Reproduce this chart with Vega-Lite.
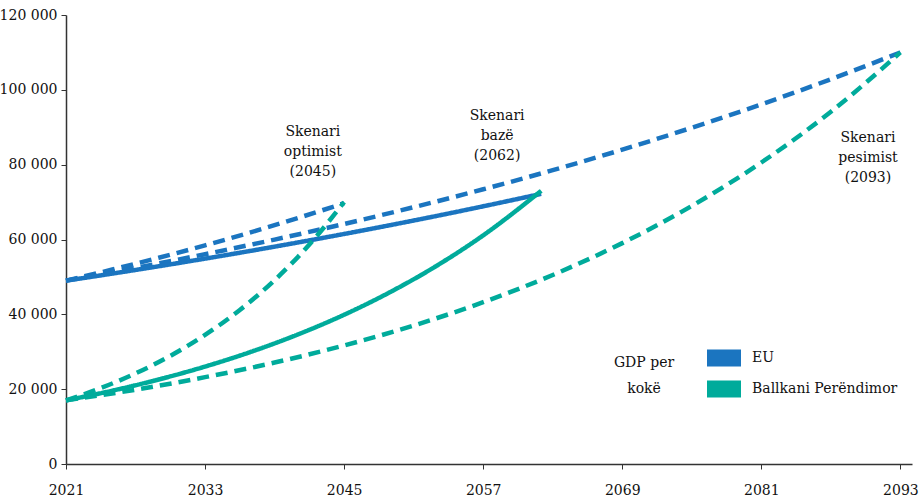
{
  "$schema": "https://vega.github.io/schema/vega-lite/v6.json",
  "width": 846,
  "height": 449,
  "autosize": {"type": "none"},
  "padding": {"left": 66, "top": 15, "right": 8, "bottom": 39},
  "background": "white",
  "config": {
    "view": {"stroke": null},
    "font": "DejaVu Serif",
    "axis": {"labelFont": "DejaVu Serif", "labelFontSize": 14, "labelColor": "#111", "domainColor": "#333", "tickColor": "#333", "domainWidth": 1.5, "tickWidth": 1, "grid": false, "title": null}
  },
  "datasets": {
    "lines": [
      {"series": "EU optimist", "region": "EU", "scenario": "alt", "year": 2021, "gdp": 49000},
      {"series": "EU optimist", "region": "EU", "scenario": "alt", "year": 2025, "gdp": 51970},
      {"series": "EU optimist", "region": "EU", "scenario": "alt", "year": 2029, "gdp": 55110},
      {"series": "EU optimist", "region": "EU", "scenario": "alt", "year": 2033, "gdp": 58440},
      {"series": "EU optimist", "region": "EU", "scenario": "alt", "year": 2037, "gdp": 61980},
      {"series": "EU optimist", "region": "EU", "scenario": "alt", "year": 2041, "gdp": 65730},
      {"series": "EU optimist", "region": "EU", "scenario": "alt", "year": 2045, "gdp": 69700},
      {"series": "EU pesimist", "region": "EU", "scenario": "alt", "year": 2021, "gdp": 49000},
      {"series": "EU pesimist", "region": "EU", "scenario": "alt", "year": 2027, "gdp": 52410},
      {"series": "EU pesimist", "region": "EU", "scenario": "alt", "year": 2033, "gdp": 56070},
      {"series": "EU pesimist", "region": "EU", "scenario": "alt", "year": 2039, "gdp": 59980},
      {"series": "EU pesimist", "region": "EU", "scenario": "alt", "year": 2045, "gdp": 64160},
      {"series": "EU pesimist", "region": "EU", "scenario": "alt", "year": 2051, "gdp": 68630},
      {"series": "EU pesimist", "region": "EU", "scenario": "alt", "year": 2057, "gdp": 73420},
      {"series": "EU pesimist", "region": "EU", "scenario": "alt", "year": 2063, "gdp": 78530},
      {"series": "EU pesimist", "region": "EU", "scenario": "alt", "year": 2069, "gdp": 84010},
      {"series": "EU pesimist", "region": "EU", "scenario": "alt", "year": 2075, "gdp": 89870},
      {"series": "EU pesimist", "region": "EU", "scenario": "alt", "year": 2081, "gdp": 96130},
      {"series": "EU pesimist", "region": "EU", "scenario": "alt", "year": 2087, "gdp": 102840},
      {"series": "EU pesimist", "region": "EU", "scenario": "alt", "year": 2093, "gdp": 110000},
      {"series": "EU bazë", "region": "EU", "scenario": "base", "year": 2021, "gdp": 49000},
      {"series": "EU bazë", "region": "EU", "scenario": "base", "year": 2025, "gdp": 50890},
      {"series": "EU bazë", "region": "EU", "scenario": "base", "year": 2029, "gdp": 52850},
      {"series": "EU bazë", "region": "EU", "scenario": "base", "year": 2033, "gdp": 54890},
      {"series": "EU bazë", "region": "EU", "scenario": "base", "year": 2037, "gdp": 57000},
      {"series": "EU bazë", "region": "EU", "scenario": "base", "year": 2041, "gdp": 59200},
      {"series": "EU bazë", "region": "EU", "scenario": "base", "year": 2045, "gdp": 61480},
      {"series": "EU bazë", "region": "EU", "scenario": "base", "year": 2049, "gdp": 63850},
      {"series": "EU bazë", "region": "EU", "scenario": "base", "year": 2053, "gdp": 66310},
      {"series": "EU bazë", "region": "EU", "scenario": "base", "year": 2057, "gdp": 68870},
      {"series": "EU bazë", "region": "EU", "scenario": "base", "year": 2062, "gdp": 72200},
      {"series": "WB optimist", "region": "Ballkani Perëndimor", "scenario": "alt", "year": 2021, "gdp": 17000},
      {"series": "WB optimist", "region": "Ballkani Perëndimor", "scenario": "alt", "year": 2024, "gdp": 20290},
      {"series": "WB optimist", "region": "Ballkani Perëndimor", "scenario": "alt", "year": 2027, "gdp": 24220},
      {"series": "WB optimist", "region": "Ballkani Perëndimor", "scenario": "alt", "year": 2030, "gdp": 28900},
      {"series": "WB optimist", "region": "Ballkani Perëndimor", "scenario": "alt", "year": 2033, "gdp": 34500},
      {"series": "WB optimist", "region": "Ballkani Perëndimor", "scenario": "alt", "year": 2036, "gdp": 41170},
      {"series": "WB optimist", "region": "Ballkani Perëndimor", "scenario": "alt", "year": 2039, "gdp": 49140},
      {"series": "WB optimist", "region": "Ballkani Perëndimor", "scenario": "alt", "year": 2042, "gdp": 58650},
      {"series": "WB optimist", "region": "Ballkani Perëndimor", "scenario": "alt", "year": 2045, "gdp": 70000},
      {"series": "WB bazë", "region": "Ballkani Perëndimor", "scenario": "base", "year": 2021, "gdp": 17000},
      {"series": "WB bazë", "region": "Ballkani Perëndimor", "scenario": "base", "year": 2025, "gdp": 19600},
      {"series": "WB bazë", "region": "Ballkani Perëndimor", "scenario": "base", "year": 2029, "gdp": 22590},
      {"series": "WB bazë", "region": "Ballkani Perëndimor", "scenario": "base", "year": 2033, "gdp": 26040},
      {"series": "WB bazë", "region": "Ballkani Perëndimor", "scenario": "base", "year": 2037, "gdp": 30020},
      {"series": "WB bazë", "region": "Ballkani Perëndimor", "scenario": "base", "year": 2041, "gdp": 34610},
      {"series": "WB bazë", "region": "Ballkani Perëndimor", "scenario": "base", "year": 2045, "gdp": 39890},
      {"series": "WB bazë", "region": "Ballkani Perëndimor", "scenario": "base", "year": 2049, "gdp": 45990},
      {"series": "WB bazë", "region": "Ballkani Perëndimor", "scenario": "base", "year": 2053, "gdp": 53010},
      {"series": "WB bazë", "region": "Ballkani Perëndimor", "scenario": "base", "year": 2057, "gdp": 61110},
      {"series": "WB bazë", "region": "Ballkani Perëndimor", "scenario": "base", "year": 2062, "gdp": 73000},
      {"series": "WB pesimist", "region": "Ballkani Perëndimor", "scenario": "alt", "year": 2021, "gdp": 17000},
      {"series": "WB pesimist", "region": "Ballkani Perëndimor", "scenario": "alt", "year": 2027, "gdp": 19860},
      {"series": "WB pesimist", "region": "Ballkani Perëndimor", "scenario": "alt", "year": 2033, "gdp": 23210},
      {"series": "WB pesimist", "region": "Ballkani Perëndimor", "scenario": "alt", "year": 2039, "gdp": 27110},
      {"series": "WB pesimist", "region": "Ballkani Perëndimor", "scenario": "alt", "year": 2045, "gdp": 31680},
      {"series": "WB pesimist", "region": "Ballkani Perëndimor", "scenario": "alt", "year": 2051, "gdp": 37010},
      {"series": "WB pesimist", "region": "Ballkani Perëndimor", "scenario": "alt", "year": 2057, "gdp": 43240},
      {"series": "WB pesimist", "region": "Ballkani Perëndimor", "scenario": "alt", "year": 2063, "gdp": 50520},
      {"series": "WB pesimist", "region": "Ballkani Perëndimor", "scenario": "alt", "year": 2069, "gdp": 59030},
      {"series": "WB pesimist", "region": "Ballkani Perëndimor", "scenario": "alt", "year": 2075, "gdp": 68970},
      {"series": "WB pesimist", "region": "Ballkani Perëndimor", "scenario": "alt", "year": 2081, "gdp": 80580},
      {"series": "WB pesimist", "region": "Ballkani Perëndimor", "scenario": "alt", "year": 2087, "gdp": 94140},
      {"series": "WB pesimist", "region": "Ballkani Perëndimor", "scenario": "alt", "year": 2093, "gdp": 110000}
    ],
    "notes": [
      {"label": "Skenari\noptimist\n(2045)", "year": 2042.3, "gdp": 90500},
      {"label": "Skenari\nbazë\n(2062)", "year": 2058.2, "gdp": 95000},
      {"label": "Skenari\npesimist\n(2093)", "year": 2090.2, "gdp": 89000}
    ]
  },
  "layer": [
    {
      "data": {"name": "lines"},
      "mark": {"type": "line", "strokeWidth": 4.5, "interpolate": "monotone", "strokeCap": "butt"},
      "encoding": {
        "x": {"field": "year", "type": "quantitative", "scale": {"domain": [2021, 2094], "nice": false, "zero": false},
              "axis": {"values": [2021, 2033, 2045, 2057, 2069, 2081, 2093], "format": "d", "tickSize": 5, "labelPadding": 14, "labelFlush": false}},
        "y": {"field": "gdp", "type": "quantitative", "scale": {"domain": [0, 120000], "nice": false},
              "axis": {"values": [0, 20000, 40000, 60000, 80000, 100000, 120000], "tickSize": 5, "labelPadding": 4,
                       "labelExpr": "replace(format(datum.value, ','), ',', ' ')"}},
        "color": {"field": "region", "type": "nominal",
                  "scale": {"domain": ["EU", "Ballkani Perëndimor"], "range": ["#1b75c0", "#00ab9b"]},
                  "legend": {"orient": "none", "legendX": 548, "legendY": 326, "title": ["GDP per", "kokë"],
                             "titleOrient": "left", "titleAnchor": "middle", "titleAlign": "center", "titleBaseline": "middle",
                             "titleFont": "DejaVu Serif", "titleFontSize": 14, "titleFontWeight": "normal", "titleColor": "#111",
                             "titleLineHeight": 26, "titlePadding": 2,
                             "labelFont": "DejaVu Serif", "labelFontSize": 14, "labelColor": "#111", "labelOffset": 11,
                             "symbolType": "M-1,-0.5H1V0.5H-1Z", "symbolSize": 1156, "symbolStrokeWidth": 0, "rowPadding": 5,
                             "encode": {
                               "title": {"update": {"dy": {"value": 7}}},
                               "symbols": {"update": {"fill": {"scale": "color", "field": "value"}, "strokeWidth": {"value": 0}, "strokeDash": {"value": [1, 0]}}}}}},
        "strokeDash": {"field": "scenario", "type": "nominal", "scale": {"domain": ["base", "alt"], "range": [[1, 0], [12, 7]]}, "legend": null},
        "detail": {"field": "series"},
        "order": {"field": "year"}
      }
    },
    {
      "data": {"name": "notes"},
      "mark": {"type": "text", "font": "DejaVu Serif", "fontSize": 14, "lineBreak": "\n", "lineHeight": 20, "align": "center", "baseline": "top", "color": "#111"},
      "encoding": {
        "x": {"field": "year", "type": "quantitative"},
        "y": {"field": "gdp", "type": "quantitative"},
        "text": {"field": "label"}
      }
    }
  ]
}
